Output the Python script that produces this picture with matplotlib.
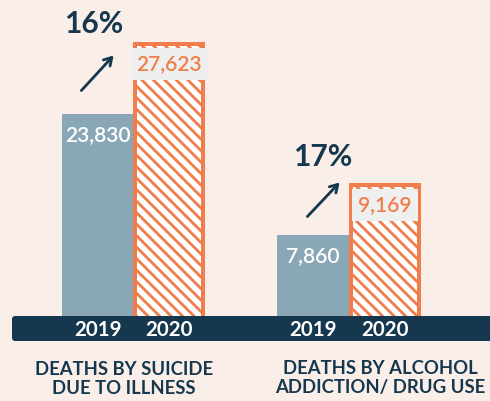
import matplotlib
matplotlib.use('Agg')
import numpy as np
import matplotlib.pyplot as plt
from matplotlib.patches import FancyBboxPatch
from matplotlib.lines import Line2D

# data
categories = ['DEATHS BY SUICIDE\nDUE TO ILLNESS', 'DEATHS BY ALCOHOL\nADDICTION/ DRUG USE']
years = ['2019', '2020']
deaths_2019 = [23830, 7860]
deaths_2020 = [27623, 9169]

bg = '#faeee9'
navy = '#16384f'
steel = '#8aa7b7'
orange = '#f07d4b'

plt.rcParams['font.family'] = ['Lato', 'DejaVu Sans']

# dpi 72 so that points == pixels
fig = plt.figure(figsize=(490 / 72, 401 / 72), dpi=72)
fig.patch.set_facecolor(bg)

# overlay for band, arrows and captions (pixel coords, y down)
ov = fig.add_axes([0, 0, 1, 1], zorder=0)
ov.set_xlim(0, 490)
ov.set_ylim(401, 0)
ov.axis('off')
ov.add_patch(FancyBboxPatch((12, 316), 490, 25, boxstyle='round,pad=0,rounding_size=3',
                            fc=navy, ec='none'))

# each group has its own (truncated) scale, as in the original graphic
group_axes = [[62, 143], [277, 144]]
group_ylims = [(12900, 30000), (5740, 14010)]
pct_pos = [(94, 24), (323, 157)]
arrow_pos = [((80, 92), (115, 54)), ((306, 218), (341, 181))]
cat_pos = [(124, 379), (380, 378)]


def stripe(ax, patch, step=11.5, lw=2.8):
    # diagonal "\" stripes clipped to the bar (and the axes), in pixel space
    bb = patch.get_window_extent()
    for c in np.arange(bb.x0 + bb.y0 - 2, bb.x1 + bb.y1 + step, step):
        ln = Line2D([bb.x0 - 5, bb.x1 + 5], [c - bb.x0 + 5, c - bb.x1 - 5],
                    transform=None, color=orange, lw=lw, solid_capstyle='butt')
        ax.add_artist(ln)
        ln.set_clip_path(patch.get_path(), patch.get_transform())


for g in range(2):
    left, width = group_axes[g]
    ax = fig.add_axes([left / 490, 85 / 401, width / 490, 316 / 401], zorder=1)
    ax.patch.set_alpha(0)
    ax.set_xlim(-0.5, 1.5)
    ax.set_ylim(*group_ylims[g])
    for s in ax.spines.values():
        s.set_visible(False)
    ax.set_yticks([])

    v19, v20 = deaths_2019[g], deaths_2020[g]
    ax.bar(0, v19, width=1.0, color=steel)
    b20 = ax.bar(1, v20, width=0.95, facecolor='white', edgecolor='none')[0]
    stripe(ax, b20)
    ax.bar(1, v20, width=0.95, facecolor='none', edgecolor=orange, linewidth=4, zorder=3)

    ax.set_xticks([0, 1])
    ax.set_xticklabels(years, fontsize=20.5, fontweight='bold', color='white')
    ax.tick_params(axis='x', length=0, pad=4)

    ax.annotate(f'{v19:,}', xy=(0, v19), xytext=(0, -21), textcoords='offset points',
                ha='center', va='center', fontsize=21, fontweight='semibold', color='white')
    ax.annotate(f'{v20:,}', xy=(1, v20), xytext=(0, -20), textcoords='offset points',
                ha='center', va='center', fontsize=21, fontweight='semibold', color=orange,
                zorder=4, bbox=dict(boxstyle='square,pad=0.28', fc='#efefef', ec='none'))

    pct = round((v20 - v19) / v19 * 100)
    ov.text(*pct_pos[g], f'{pct}%', ha='center', va='center', fontsize=30,
            fontweight='bold', color=navy)
    (x0, y0), (x1, y1) = arrow_pos[g]
    ov.annotate('', xy=(x1, y1), xytext=(x0, y0),
                arrowprops=dict(arrowstyle='->,head_length=0.75,head_width=0.45',
                                color=navy, lw=2.8))
    ov.text(*cat_pos[g], categories[g], ha='center', va='center', fontsize=18.5,
            fontweight='bold', color=navy, linespacing=1.2)

fig.savefig('out.png', dpi=72, facecolor=bg)
